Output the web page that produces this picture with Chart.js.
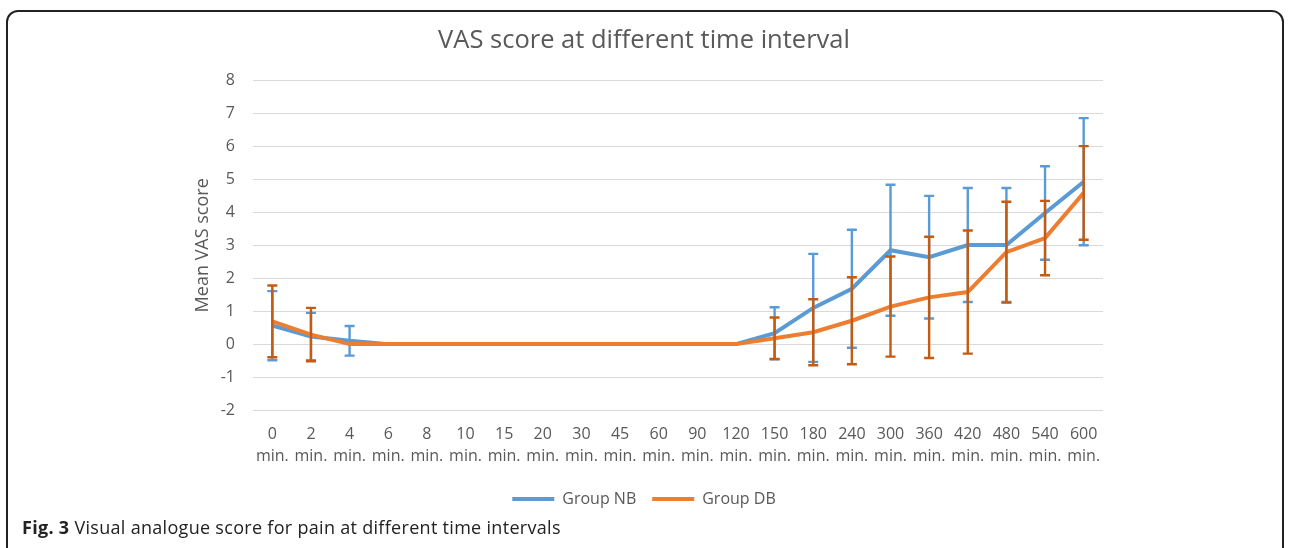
<!DOCTYPE html>
<html>
<head>
<meta charset="utf-8">
<script src="https://cdn.jsdelivr.net/npm/chart.js@4.4.0/dist/chart.umd.min.js"></script>
<style>
  html, body { margin: 0; padding: 0; background: #fff; width: 1290px; height: 548px; overflow: hidden; }
  #wrap { position: absolute; left: 0; top: 0; width: 1290px; height: 548px; }
  #frame { position: absolute; left: 6px; top: 10px; width: 1274px; height: 600px; border: 2px solid #222; border-radius: 12px; pointer-events: none; }
  #caption { position: absolute; left: 22px; top: 515px; font-family: "Open Sans", sans-serif; font-size: 18px; letter-spacing: 0.3px; color: #222; white-space: nowrap; }
  #caption b { font-weight: 700; }
</style>
</head>
<body>
<div id="wrap"><canvas id="c" width="1290" height="548"></canvas></div>
<div id="frame"></div>
<div id="caption"><b>Fig. 3</b> Visual analogue score for pain at different time intervals</div>
<script>
const categories = ["0","2","4","6","8","10","15","20","30","45","60","90","120","150","180","240","300","360","420","480","540","600"];
const tickUnit = "min.";
const yTicks = [-2,-1,0,1,2,3,4,5,6,7,8];

const nbMean = [0.56,0.23,0.10,0,0,0,0,0,0,0,0,0,0,0.33,1.10,1.68,2.85,2.64,3.01,3.01,3.98,4.93];
const nbSD   = [1.05,0.72,0.45,0,0,0,0,0,0,0,0,0,0,0.79,1.64,1.79,1.99,1.86,1.73,1.73,1.42,1.93];
const dbMean = [0.69,0.29,0,0,0,0,0,0,0,0,0,0,0,0.18,0.36,0.71,1.14,1.42,1.58,2.79,3.22,4.59];
const dbSD   = [1.09,0.81,0,0,0,0,0,0,0,0,0,0,0,0.63,1.00,1.32,1.52,1.84,1.87,1.53,1.13,1.42];

const FONT = '"Open Sans", sans-serif';
const GREY = '#595959';

const errorBars = {
  id: 'errorBars',
  afterDatasetDraw(chart, args) {
    const ds = chart.data.datasets[args.index];
    if (!ds.sd) return;
    const ys = chart.scales.y;
    const ctx = chart.ctx;
    ctx.save();
    ctx.strokeStyle = ds.errorColor;
    ctx.lineWidth = 2.4;
    ctx.lineCap = 'butt';
    args.meta.data.forEach((pt, i) => {
      const sd = ds.sd[i];
      if (!sd) return;
      const m = ds.data[i];
      const x = pt.x;
      const yt = ys.getPixelForValue(m + sd);
      const yb = ys.getPixelForValue(m - sd);
      ctx.beginPath();
      ctx.moveTo(x, yt); ctx.lineTo(x, yb);
      ctx.moveTo(x - 5, yt); ctx.lineTo(x + 5, yt);
      ctx.moveTo(x - 5, yb); ctx.lineTo(x + 5, yb);
      ctx.stroke();
    });
    ctx.restore();
  }
};

new Chart(document.getElementById('c'), {
  type: 'line',
  data: {
    labels: categories.map(c => [c, tickUnit]),
    datasets: [
      { label: 'Group NB', data: nbMean, sd: nbSD, borderColor: '#5B9BD5', backgroundColor: '#5B9BD5', errorColor: '#5B9BD5', borderWidth: 4, pointRadius: 0, tension: 0, fill: false, order: 1 },
      { label: 'Group DB', data: dbMean, sd: dbSD, borderColor: '#ED7D31', backgroundColor: '#ED7D31', errorColor: '#C55A11', borderWidth: 4, pointRadius: 0, tension: 0, fill: false, order: 0 }
    ]
  },
  options: {
    responsive: false,
    animation: false,
    layout: { padding: { left: 185, right: 187, top: 0, bottom: 31 } },
    plugins: {
      tooltip: { enabled: false },
      title: {
        display: true,
        text: 'VAS score at different time interval',
        color: GREY,
        font: { family: FONT, size: 25.5, weight: 'normal' },
        padding: { top: 25, bottom: 25 }
      },
      legend: {
        position: 'bottom',
        reverse: true,
        labels: {
          color: GREY,
          font: { family: FONT, size: 16 },
          boxWidth: 42,
          boxHeight: 4,
          padding: 16,
          generateLabels(chart) {
            return Chart.defaults.plugins.legend.labels.generateLabels(chart).map(l => Object.assign(l, { lineWidth: 0 }));
          }
        }
      }
    },
    scales: {
      x: {
        offset: true,
        grid: { display: false, offset: true },
        border: { display: false },
        ticks: { color: GREY, font: { family: FONT, size: 16, lineHeight: 1.35 }, padding: 6, maxRotation: 0, autoSkip: false },
        afterFit(s) { s.height = 65; }
      },
      y: {
        min: -2, max: 8,
        afterBuildTicks(s) { s.ticks = yTicks.map(v => ({ value: v })); },
        grid: { color: '#d9d9d9', lineWidth: 1, drawTicks: false },
        border: { display: false },
        ticks: { color: GREY, font: { family: FONT, size: 16 }, padding: 18 },
        title: { display: true, text: 'Mean VAS score', color: GREY, font: { family: FONT, size: 18 }, padding: { top: 7, bottom: 0 } },
        afterFit(s) { s.width = 68; }
      }
    }
  },
  plugins: [errorBars]
});
</script>
</body>
</html>
